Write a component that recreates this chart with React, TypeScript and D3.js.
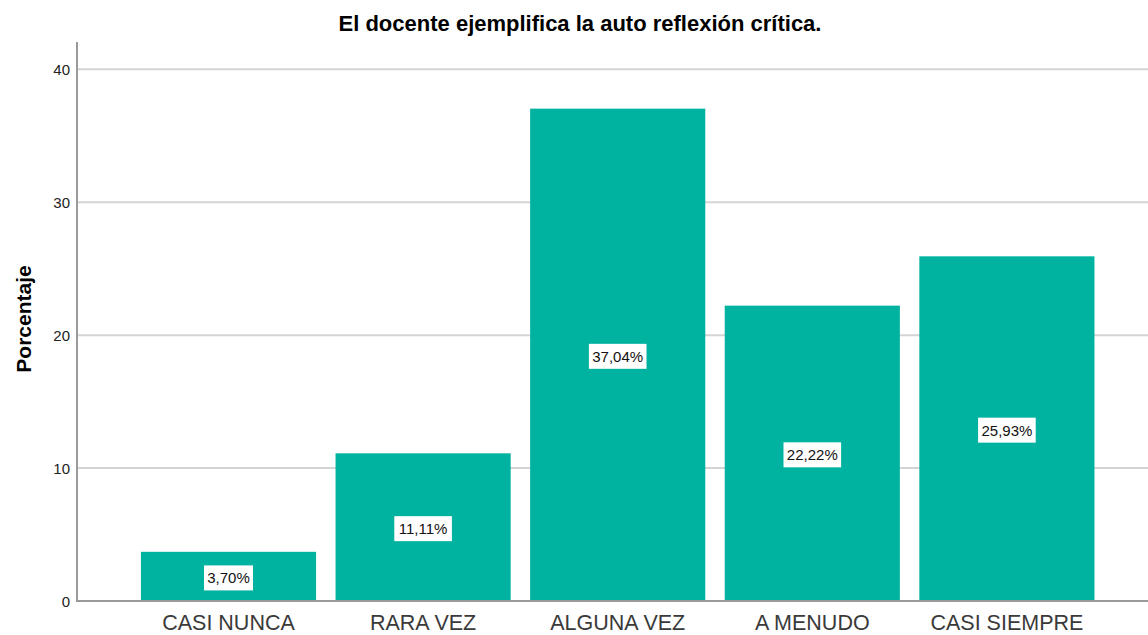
import React from "react";
import * as d3 from "d3";

const categories = ["CASI NUNCA", "RARA VEZ", "ALGUNA VEZ", "A MENUDO", "CASI SIEMPRE"];
const values = [3.7, 11.11, 37.04, 22.22, 25.93];
const valueLabels = ["3,70%", "11,11%", "37,04%", "22,22%", "25,93%"];
const yTicks = [0, 10, 20, 30, 40];
const title = "El docente ejemplifica la auto reflexión crítica.";
const yTitle = "Porcentaje";

const W = 1148;
const H = 635;
const axisX = 77;
const plotTop = 42;
const plotBottom = 601;
const plotRight = 1148;
const color = "#00b3a1";
const font = "'Liberation Sans', Arial, sans-serif";

export default function App() {
  const y = d3.scaleLinear().domain([0, 40]).range([plotBottom, 69.3]);
  const x = d3
    .scaleBand<string>()
    .domain(categories)
    .range([131.2, 1104.2])
    .paddingInner(0.1)
    .paddingOuter(0.05);

  return (
    <svg
      width={W}
      height={H}
      style={{ position: "absolute", left: 0, top: 0, background: "#fff" }}
      fontFamily={font}
    >
      <rect x={0} y={0} width={W} height={H} fill="#fff" />
      {yTicks.slice(1).map((t) => (
        <line
          key={"g" + t}
          x1={axisX}
          x2={plotRight}
          y1={y(t)}
          y2={y(t)}
          stroke="#d4d4d4"
          strokeWidth={2}
        />
      ))}
      {categories.map((c, i) => {
        const bx = x(c)!;
        const by = y(values[i]);
        return (
          <rect
            key={"b" + c}
            x={bx}
            y={by}
            width={x.bandwidth()}
            height={plotBottom - by}
            fill={color}
          />
        );
      })}
      <line x1={axisX} x2={axisX} y1={plotTop} y2={plotBottom + 1} stroke="#9a9a9a" strokeWidth={2} />
      <line x1={axisX} x2={plotRight} y1={plotBottom} y2={plotBottom} stroke="#9a9a9a" strokeWidth={2} />
      {yTicks.map((t) => (
        <text
          key={"t" + t}
          x={70}
          y={y(t)}
          textAnchor="end"
          dominantBaseline="central"
          fontSize={15}
          fill="#222"
        >
          {t}
        </text>
      ))}
      {categories.map((c) => (
        <text
          key={"c" + c}
          x={x(c)! + x.bandwidth() / 2}
          y={630}
          textAnchor="middle"
          fontSize={21.5}
          fill="#3a3a3a"
        >
          {c}
        </text>
      ))}
      {categories.map((c, i) => {
        const cx = x(c)! + x.bandwidth() / 2;
        const cy = (y(values[i]) + plotBottom) / 2 + 1.5;
        const w = valueLabels[i].length * 8.6 + 6;
        return (
          <g key={"l" + c}>
            <rect x={cx - w / 2} y={cy - 12.5} width={w} height={25} fill="#fff" />
            <text x={cx} y={cy} textAnchor="middle" dominantBaseline="central" fontSize={15} fill="#111">
              {valueLabels[i]}
            </text>
          </g>
        );
      })}
      <text x={580} y={31} textAnchor="middle" fontSize={22} fontWeight="bold" fill="#000">
        {title}
      </text>
      <text
        transform={`translate(31, 319) rotate(-90)`}
        textAnchor="middle"
        fontSize={21}
        fontWeight="bold"
        fill="#000"
      >
        {yTitle}
      </text>
    </svg>
  );
}
